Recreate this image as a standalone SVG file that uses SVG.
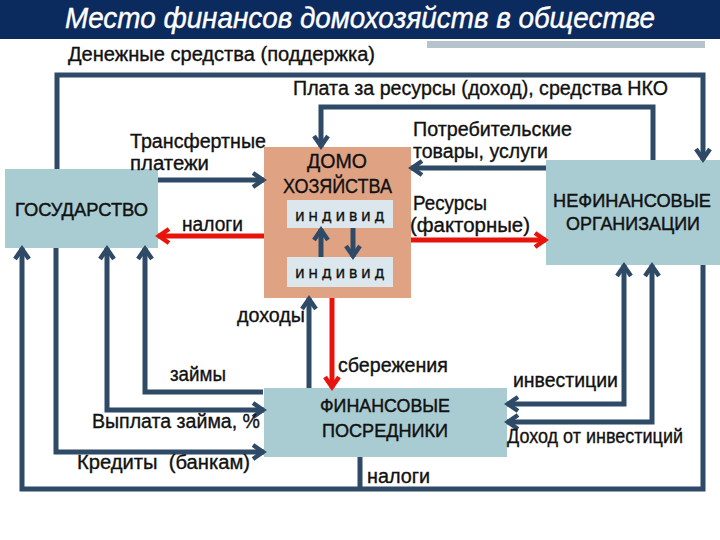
<svg xmlns="http://www.w3.org/2000/svg" width="720" height="540" viewBox="0 0 720 540">
  <style>
    .t { font-family: "Liberation Sans", "DejaVu Sans", sans-serif; font-size: 20px; fill: #111; stroke: #111; stroke-width: 0.35; }
    .b { font-family: "Liberation Sans", "DejaVu Sans", sans-serif; font-size: 19px; fill: #111; stroke: #111; stroke-width: 0.45; }
    .ind { font-family: "DejaVu Sans", "Liberation Sans", sans-serif; font-size: 15px; fill: #111; stroke: #111; stroke-width: 0.3; letter-spacing: 3.5px; }
    .ln { fill: none; stroke: #2f4a66; stroke-width: 5; }
    .rd { fill: none; stroke: #e8140c; stroke-width: 5; }
    .box { fill: #a9ccd3; }
  </style>
  <defs>
    <marker id="a" markerUnits="userSpaceOnUse" markerWidth="20" markerHeight="20" viewBox="0 0 20 20" refX="15" refY="10" orient="auto-start-reverse">
      <path d="M4,3 L14,10 L4,17" fill="none" stroke="#2f4a66" stroke-width="4.5"/>
    </marker>
    <marker id="r" markerUnits="userSpaceOnUse" markerWidth="20" markerHeight="20" viewBox="0 0 20 20" refX="15" refY="10" orient="auto-start-reverse">
      <path d="M4,3 L14,10 L4,17" fill="none" stroke="#e8140c" stroke-width="4.5"/>
    </marker>
  </defs>

  <!-- title -->
  <rect x="0" y="0" width="720" height="39" fill="#0b2a5e"/>
  <text x="65" y="28" font-family="'Liberation Sans', 'DejaVu Sans', sans-serif" font-style="italic" font-size="29" fill="#ffffff" stroke="#ffffff" stroke-width="0.4" textLength="590" lengthAdjust="spacingAndGlyphs">Место финансов домохозяйств в обществе</text>
  <rect x="427" y="41" width="278" height="7" fill="#b4c3cc"/>

  <!-- nodes -->
  <g id="gov">
    <rect class="box" x="5" y="169" width="153" height="79"/>
    <text class="b" x="15" y="216" textLength="133" lengthAdjust="spacingAndGlyphs">ГОСУДАРСТВО</text>
  </g>
  <g id="household">
    <rect x="264" y="147" width="147" height="151" fill="#dfa384"/>
    <text class="t" x="307" y="168" textLength="60" lengthAdjust="spacingAndGlyphs">ДОМО</text>
    <text class="t" x="283" y="193" textLength="109" lengthAdjust="spacingAndGlyphs">ХОЗЯЙСТВА</text>
    <g id="ind1">
      <rect x="287" y="200" width="106" height="28" fill="#dbe7ec"/>
      <text class="ind" x="295" y="221">индивид</text>
    </g>
    <g id="ind2">
      <rect x="287" y="257" width="106" height="30" fill="#dbe7ec"/>
      <text class="ind" x="295" y="278">индивид</text>
    </g>
  </g>
  <g id="nonfin">
    <rect class="box" x="546" y="160" width="174" height="105"/>
    <text class="b" x="553" y="207" textLength="158" lengthAdjust="spacingAndGlyphs">НЕФИНАНСОВЫЕ</text>
    <text class="b" x="566" y="230" textLength="134" lengthAdjust="spacingAndGlyphs">ОРГАНИЗАЦИИ</text>
  </g>
  <g id="fin">
    <rect class="box" x="264" y="388" width="243" height="69"/>
    <text class="b" x="320" y="412" textLength="130" lengthAdjust="spacingAndGlyphs">ФИНАНСОВЫЕ</text>
    <text class="b" x="322" y="437" textLength="126" lengthAdjust="spacingAndGlyphs">ПОСРЕДНИКИ</text>
  </g>

  <!-- connectors -->
  <g id="connectors">
    <path class="ln" d="M57,169 V75 H703 V160" marker-end="url(#a)"/>
    <path class="ln" d="M653,160 V107 H321 V147" marker-end="url(#a)"/>
    <path class="ln" d="M158,180 H264" marker-end="url(#a)"/>
    <path class="rd" d="M264,236 H158" marker-end="url(#r)"/>
    <path class="ln" d="M546,168 H411" marker-end="url(#a)"/>
    <path class="rd" d="M411,240 H546" marker-end="url(#r)"/>
    <path class="ln" d="M321,257 V229" marker-end="url(#a)"/>
    <path class="ln" d="M353,228 V257" marker-end="url(#a)"/>
    <path class="ln" d="M309,388 V298" marker-end="url(#a)"/>
    <path class="rd" d="M332,298 V388" marker-end="url(#r)"/>
    <path class="ln" d="M263,392 H145 V248" marker-end="url(#a)"/>
    <path class="ln" d="M107,248 V410 H264" marker-start="url(#a)" marker-end="url(#a)"/>
    <path class="ln" d="M56,248 V452 H264" marker-end="url(#a)"/>
    <path class="ln" d="M703,265 V489 H22 V248" marker-end="url(#a)"/>
    <path class="ln" d="M360,457 V489"/>
    <path class="ln" d="M624,265 V404 H507" marker-start="url(#a)" marker-end="url(#a)"/>
    <path class="ln" d="M652,265 V422 H507" marker-start="url(#a)" marker-end="url(#a)"/>
  </g>

  <!-- labels -->
  <g id="labels">
    <text class="t" x="68" y="61" textLength="307" lengthAdjust="spacingAndGlyphs">Денежные средства (поддержка)</text>
    <text class="t" x="293" y="95" textLength="375" lengthAdjust="spacingAndGlyphs">Плата за ресурсы (доход), средства НКО</text>
    <text class="t" x="130" y="148" textLength="136" lengthAdjust="spacingAndGlyphs">Трансфертные</text>
    <text class="t" x="130" y="170" textLength="79" lengthAdjust="spacingAndGlyphs">платежи</text>
    <text class="t" x="182" y="231" textLength="61" lengthAdjust="spacingAndGlyphs">налоги</text>
    <text class="t" x="413" y="136" textLength="159" lengthAdjust="spacingAndGlyphs">Потребительские</text>
    <text class="t" x="413" y="158" textLength="135" lengthAdjust="spacingAndGlyphs">товары, услуги</text>
    <text class="t" x="413" y="210" textLength="74" lengthAdjust="spacingAndGlyphs">Ресурсы</text>
    <text class="t" x="410" y="232" textLength="120" lengthAdjust="spacingAndGlyphs">(факторные)</text>
    <text class="t" x="237" y="322" textLength="68" lengthAdjust="spacingAndGlyphs">доходы</text>
    <text class="t" x="338" y="372" textLength="110" lengthAdjust="spacingAndGlyphs">сбережения</text>
    <text class="t" x="170" y="381" textLength="56" lengthAdjust="spacingAndGlyphs">займы</text>
    <text class="t" x="92" y="428" textLength="168" lengthAdjust="spacingAndGlyphs">Выплата займа, %</text>
    <text class="t" x="77" y="469" textLength="173" lengthAdjust="spacingAndGlyphs" xml:space="preserve">Кредиты  (банкам)</text>
    <text class="t" x="367" y="483" textLength="63" lengthAdjust="spacingAndGlyphs">налоги</text>
    <text class="t" x="513" y="387" textLength="105" lengthAdjust="spacingAndGlyphs">инвестиции</text>
    <text class="t" x="507" y="443" textLength="176" lengthAdjust="spacingAndGlyphs">Доход от инвестиций</text>
  </g>
</svg>
